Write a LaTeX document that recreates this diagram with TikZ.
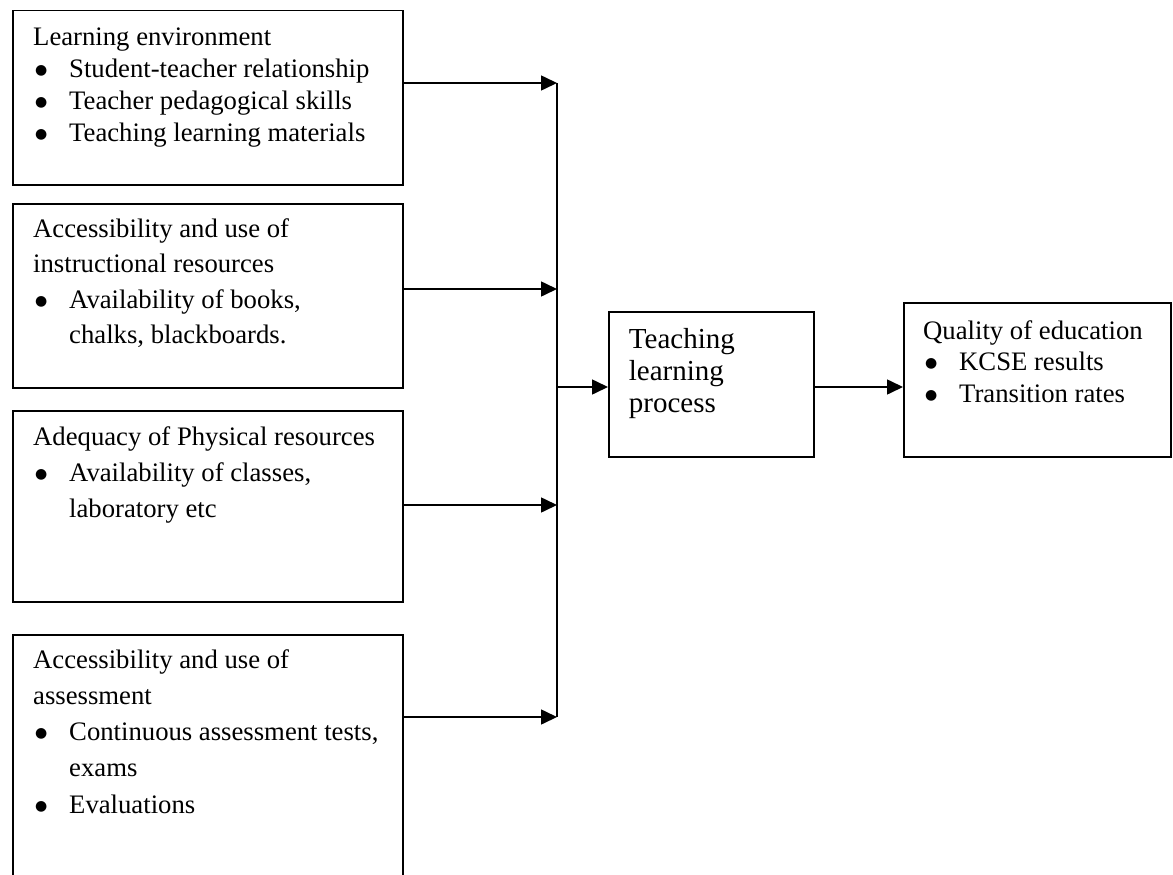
\documentclass[tikz,border=0pt]{standalone}
\usepackage{fontspec}
\setmainfont{Liberation Serif}
\newfontfamily\bulfont{DejaVu Sans}
\usetikzlibrary{arrows.meta}
\newcommand{\itembul}{\makebox[36pt][l]{\hspace{2pt}\raisebox{3pt}{\bulfont\fontsize{14}{14}\selectfont ●}}}
\newcommand{\contind}{\hspace*{36pt}}
\begin{document}
\begin{tikzpicture}[x=1pt,y=-1pt,
  box/.style={draw,line width=1.5pt,inner sep=0pt,anchor=north west},
  txt/.style={anchor=north west,inner sep=0pt,align=left},
  arr/.style={line width=1.6pt,-{Triangle[length=16pt,width=15pt]}},
  ln/.style={line width=1.6pt}]
\clip (0,0) rectangle (1173,875);
\fill[white] (0,0) rectangle (1173,875);
% boxes
\node[box,minimum width=390pt,minimum height=174pt] (b1) at (12,10) {};
\node[box,minimum width=390pt,minimum height=184pt] (b2) at (12,203) {};
\node[box,minimum width=390pt,minimum height=191pt] (b3) at (12,410) {};
\node[box,minimum width=390pt,minimum height=320pt] (b4) at (12,634) {};
\node[box,minimum width=205pt,minimum height=145pt] (tlp) at (608,311) {};
\node[box,minimum width=267pt,minimum height=154pt] (qoe) at (903,302) {};
% texts
\node[txt,font={\fontsize{26.7}{31.7}\selectfont\lineskiplimit=-50pt}] (t1) at (33,25.7)
  {\rule{0pt}{20pt}Learning environment\\
   \itembul Student-teacher relationship\\
   \itembul Teacher pedagogical skills\\
   \itembul Teaching learning materials};
\node[txt,font={\fontsize{26.7}{35.5}\selectfont\lineskiplimit=-50pt}] (t2) at (33,217)
  {\rule{0pt}{20pt}Accessibility and use of\\
   instructional resources\\
   \itembul Availability of books,\\
   \contind chalks, blackboards.};
\node[txt,font={\fontsize{26.7}{36}\selectfont\lineskiplimit=-50pt}] (t3) at (33,425)
  {\rule{0pt}{20pt}Adequacy of Physical resources\\
   \itembul Availability of classes,\\
   \contind laboratory etc};
\node[txt,font={\fontsize{26.7}{36.2}\selectfont\lineskiplimit=-50pt}] (t4) at (33,648)
  {\rule{0pt}{20pt}Accessibility and use of\\
   assessment\\
   \itembul Continuous assessment tests,\\
   \contind exams\\
   \itembul Evaluations};
\node[txt,font={\fontsize{29}{32}\selectfont\lineskiplimit=-50pt}] (tt) at (628.7,326)
  {\rule{0pt}{22pt}Teaching\\learning\\process};
\node[txt,font={\fontsize{26.7}{31.5}\selectfont\lineskiplimit=-50pt}] (tq) at (923,319)
  {\rule{0pt}{20pt}Quality of education\\
   \itembul KCSE results\\
   \itembul Transition rates};
% connectors
\coordinate (j1) at (557,83);
\coordinate (j2) at (557,289);
\coordinate (j3) at (557,505);
\coordinate (j4) at (557,717);
\coordinate (jm) at (557,387);
\draw[ln] (j1) -- (j4);
\draw[arr] (b1.east |- j1) -- (j1);
\draw[arr] (b2.east |- j2) -- (j2);
\draw[arr] (b3.east |- j3) -- (j3);
\draw[arr] (b4.east |- j4) -- (j4);
\draw[arr] (jm) -- (tlp.west |- jm);
\draw[arr] (tlp.east |- jm) -- (qoe.west |- jm);
\end{tikzpicture}
\end{document}
